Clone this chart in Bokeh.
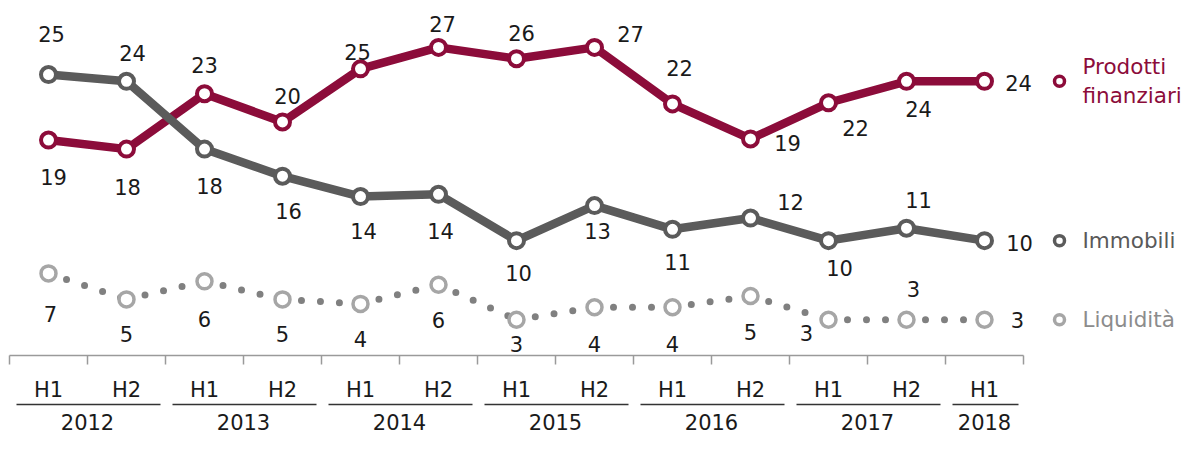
from bokeh.plotting import figure
from bokeh.models import Range1d, ColumnDataSource
from bokeh.core.properties import value
from bokeh.embed import file_html
from bokeh.resources import INLINE

# ---------------- data ----------------
periods = ["H1", "H2", "H1", "H2", "H1", "H2", "H1", "H2", "H1", "H2", "H1", "H2", "H1"]
period_years = ["2012", "2012", "2013", "2013", "2014", "2014", "2015", "2015",
                "2016", "2016", "2017", "2017", "2018"]
years = ["2012", "2013", "2014", "2015", "2016", "2017", "2018"]

series_names = ["Prodotti\nfinanziari", "Immobili", "Liquidità"]
prodotti = [18.8, 18.0, 22.9, 20.4, 25.1, 27.0, 26.0, 27.0, 22.0, 18.9, 22.1, 24.0, 24.0]
immobili = [24.6, 24.0, 18.0, 15.6, 13.8, 14.0, 9.9, 13.0, 10.9, 11.9, 9.9, 11.0, 9.9]
liquidita = [7.0, 4.7, 6.3, 4.7, 4.3, 6.0, 2.9, 4.0, 4.0, 5.0, 2.9, 2.9, 2.9]

# ---------------- label placement (screen px offsets) ----------------
prod_dx = [5, 1, 0, 5, -3, 4, 5, 36, 7, 37, 27, 12, 34]
prod_dy = [37, 38, -29, -26, -17, -23, -26, -13, -36, 4, 25, 28, 2]
imm_dx = [3, 6, 5, 6, 3, 2, 2, 3, 5, 40, 11, 12, 35]
imm_dy = [-41, -28, 37, 35, 34, 37, 32, 25, 33, -16, 27, -28, 2]
liq_dx = [2, 0, 0, 0, 0, 0, 0, 0, 0, 0, -22, 7, 33]
liq_dy = [41, 35, 38, 35, 35, 35, 24, 37, 37, 36, 13, -31, 0]

# ---------------- layout ----------------
W, H = 1182, 434
X0, DX = 48.0, 78.0      # frame px of first category, px per category
Y0, SY = 352.0, 11.3     # frame px of value 0, px per unit

def fx(px):
    return (px - X0) / DX

def fy(px):
    return (Y0 - px) / SY

FONT = value("DejaVu Sans")
C_PROD = "#8c0c3a"
C_IMM = "#5b5b5b"
C_LIQ = "#a6a6a6"
C_LIQ_DOT = "#808080"
C_TXT = "#1a1a1a"

p = figure(width=W, height=H,
           x_range=Range1d(fx(0), fx(W)), y_range=Range1d(fy(H), fy(0)),
           output_backend="svg", toolbar_location=None, min_border=0,
           x_axis_location=None, y_axis_location=None,
           outline_line_color=None, background_fill_color="white",
           border_fill_color="white")
p.grid.visible = False

n = len(periods)
xs = list(range(n))

# ---------------- custom category axis ----------------
AX_Y, TICK_Y, HL_Y, UL_Y, YR_Y = 355, 364, 389, 404, 421
p.segment(x0=[-0.5], y0=[fy(AX_Y)], x1=[n - 0.5], y1=[fy(AX_Y)],
          line_color="#9a9a9a", line_width=1.5)
ticks = [i - 0.5 for i in range(n + 1)]
p.segment(x0=ticks, y0=[fy(AX_Y)] * len(ticks), x1=ticks, y1=[fy(TICK_Y)] * len(ticks),
          line_color="#9a9a9a", line_width=1.5)
p.text(x=xs, y=[fy(HL_Y)] * n, text=periods, text_align="center",
       text_baseline="middle", text_font=FONT, text_font_size="21px",
       text_color=C_TXT)

grp_start, grp_end, grp_center = [], [], []
for yr in years:
    idx = [i for i, v in enumerate(period_years) if v == yr]
    grp_start.append(idx[0] - 0.5 + 7 / DX)
    grp_end.append(idx[-1] + 0.5 - 5 / DX)
    grp_center.append((idx[0] + idx[-1]) / 2)
p.segment(x0=grp_start, y0=[fy(UL_Y)] * len(years), x1=grp_end, y1=[fy(UL_Y)] * len(years),
          line_color="#333333", line_width=1.5)
p.text(x=grp_center, y=[fy(YR_Y)] * len(years), text=years, text_align="center",
       text_baseline="middle", text_font=FONT, text_font_size="21px",
       text_color=C_TXT)

# ---------------- Liquidità (dotted) ----------------
seg_x = [[i, i + 1] for i in range(n - 1)]
seg_y = [[liquidita[i], liquidita[i + 1]] for i in range(n - 1)]
p.multi_line(xs=seg_x, ys=seg_y, line_color=C_LIQ_DOT, line_width=7,
             line_dash="0 19", line_cap="round")
p.scatter(x=xs, y=liquidita, marker="circle", size=15, fill_color="white",
          line_color=C_LIQ, line_width=3.5)

# ---------------- Prodotti finanziari ----------------
p.line(x=xs, y=prodotti, line_color=C_PROD, line_width=8.5, line_join="round")
p.scatter(x=xs, y=prodotti, marker="circle", size=15, fill_color="white",
          line_color=C_PROD, line_width=4)

# ---------------- Immobili ----------------
p.line(x=xs, y=immobili, line_color=C_IMM, line_width=8.5, line_join="round")
p.scatter(x=xs, y=immobili, marker="circle", size=15, fill_color="white",
          line_color=C_IMM, line_width=4)

# ---------------- value labels ----------------
for vals, dxs, dys in ((prodotti, prod_dx, prod_dy),
                       (immobili, imm_dx, imm_dy),
                       (liquidita, liq_dx, liq_dy)):
    src = ColumnDataSource(dict(x=xs, y=vals, t=[str(round(v)) for v in vals],
                                dx=dxs, dy=dys))
    p.text(x="x", y="y", text="t", x_offset="dx", y_offset="dy", source=src,
           text_align="center", text_baseline="middle", text_font=FONT,
           text_font_size="21px", text_color=C_TXT)

# ---------------- legend on the right ----------------
leg_y = [prodotti[-1], immobili[-1], liquidita[-1]]
leg_colors = [C_PROD, C_IMM, C_LIQ]
leg_text_colors = [C_PROD, "#595959", "#8c8c8c"]
p.scatter(x=[fx(1059)] * 3, y=leg_y, marker="circle", size=10, fill_color="white",
          line_color=leg_colors, line_width=3.5)
p.text(x=[fx(1082)] * 3, y=leg_y, text=series_names, text_align="left",
       text_baseline="middle", text_font=FONT, text_font_size="21.5px",
       text_color=leg_text_colors, text_line_height=1.15)

open("out.html", "w").write(file_html(p, INLINE))
